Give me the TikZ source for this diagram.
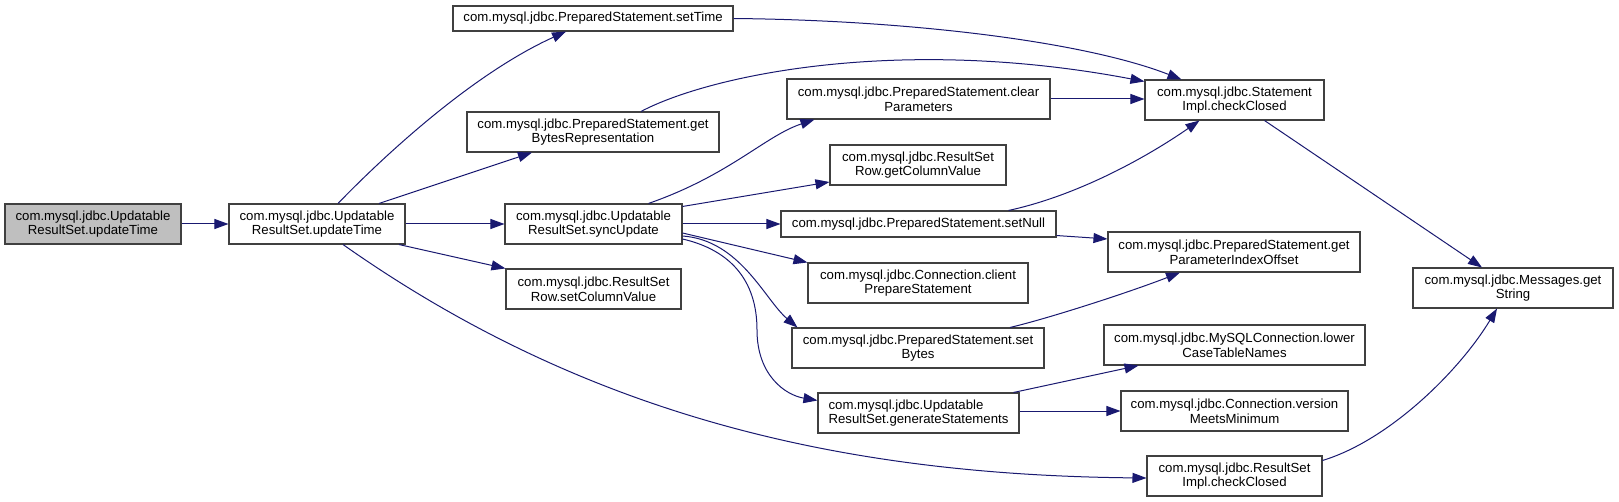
\documentclass[tikz,border=0pt]{standalone}
\usepackage{fontspec}
\setmainfont{Liberation Sans}
\usetikzlibrary{arrows.meta,calc}
\definecolor{edgec}{HTML}{191970}
\definecolor{boxc}{HTML}{404040}
\definecolor{rootc}{HTML}{BFBFBF}
\begin{document}
\begin{tikzpicture}[x=0.75pt,y=-0.75pt,
  box/.style={draw=boxc, line width=0.8pt, fill=white, inner sep=0pt, align=center,
              font=\fontsize{9.9}{11}\selectfont},
  sz/.style 2 args={minimum width=#1*0.75pt, minimum height=#2*0.75pt},
  edge/.style={draw=edgec, line width=0.75pt, -{Triangle[length=10.5pt,width=7.5pt]}}]
\useasboundingbox (0,0) rectangle (1619,502);

\node[box,sz={176}{40},fill=rootc] (A) at (93,224) {com.mysql.jdbc.Updatable\\ResultSet.updateTime};
\node[box,sz={176}{40}] (B) at (317,224) {com.mysql.jdbc.Updatable\\ResultSet.updateTime};
\node[box,sz={280}{25}] (C) at (593,18.5) {com.mysql.jdbc.PreparedStatement.setTime};
\node[box,sz={252}{40}] (D) at (593,132) {com.mysql.jdbc.PreparedStatement.get\\BytesRepresentation};
\node[box,sz={177}{40}] (E) at (593.5,224) {com.mysql.jdbc.Updatable\\ResultSet.syncUpdate};
\node[box,sz={175}{40}] (F) at (593.5,289) {com.mysql.jdbc.ResultSet\\Row.setColumnValue};
\node[box,sz={263}{40}] (G) at (918.5,99) {com.mysql.jdbc.PreparedStatement.clear\\Parameters};
\node[box,sz={176}{40}] (H) at (918,165) {com.mysql.jdbc.ResultSet\\Row.getColumnValue};
\node[box,sz={275}{26}] (I) at (918.5,224) {com.mysql.jdbc.PreparedStatement.setNull};
\node[box,sz={220}{40}] (J) at (918,283) {com.mysql.jdbc.Connection.client\\PrepareStatement};
\node[box,sz={252}{40}] (K) at (918,348) {com.mysql.jdbc.PreparedStatement.set\\Bytes};
\node[box,sz={201}{40},align=left] (L) at (918.5,413) {com.mysql.jdbc.Updatable\\ResultSet.generateStatements};
\node[box,sz={179}{40}] (M) at (1234.5,100) {com.mysql.jdbc.Statement\\Impl.checkClosed};
\node[box,sz={252}{40}] (N) at (1234,252) {com.mysql.jdbc.PreparedStatement.get\\ParameterIndexOffset};
\node[box,sz={261}{40}] (O) at (1234.5,345) {com.mysql.jdbc.MySQLConnection.lower\\CaseTableNames};
\node[box,sz={227}{40}] (P) at (1234.5,411) {com.mysql.jdbc.Connection.version\\MeetsMinimum};
\node[box,sz={175}{40}] (Q) at (1234.5,476) {com.mysql.jdbc.ResultSet\\Impl.checkClosed};
\node[box,sz={200}{40}] (R) at (1513,288) {com.mysql.jdbc.Messages.get\\String};

\coordinate (bend) at (757,330);

\draw[edge] (A.east) -- (B.west);
\draw[edge] ($(B.north)+(21,0)$) .. controls (380,160) and (470,75) .. ($(C.south)+(-27,0)$);
\draw[edge] ($(B.north)+(62,0)$) -- ($(D.south)+(-61,0)$);
\draw[edge] (B.east) -- (E.west);
\draw[edge] ($(B.south)+(82,0)$) -- (F.north west);
\draw[edge] ($(B.south)+(26,0)$) .. controls (585,415) and (840,475) .. ($(Q.west)+(0,2)$);
\draw[edge] (C.east) .. controls (900,20) and (1080,40) .. ($(M.north)+(-53,0)$);
\draw[edge] ($(D.north)+(48,0)$) .. controls (710,75) and (900,35) .. ($(M.north west)+(0,2)$);
\draw[edge] ($(E.north)+(55,0)$) .. controls (730,175) and (765,136) .. ($(G.south west)+(28,0)$);
\draw[edge] ($(E.north east)+(0,3)$) -- ($(H.west)+(0,17)$);
\draw[edge] (E.east) -- (I.west);
\draw[edge] ($(E.east)+(0,9)$) -- (J.north west);
\draw[edge] ($(E.east)+(0,12)$) .. controls (740,240) and (765,300) .. ($(K.north west)+(6,0)$);
\draw[edge] ($(E.east)+(0,15)$) .. controls (730,250) and (757,280) .. (bend)
            .. controls (757,375) and (785,395) .. ($(L.north west)+(0,8)$);
\draw[edge] (G.east) -- (G.east -| M.west);
\draw[edge] ($(I.north)+(90,0)$) .. controls (1080,195) and (1150,155) .. ($(M.south)+(-35,0)$);
\draw[edge] ($(I.south east)+(0,-2)$) -- ($(N.north west)+(0,7.5)$);
\draw[edge] ($(K.north)+(92,0)$) .. controls (1050,318) and (1130,292) .. ($(N.south)+(-54,0)$);
\draw[edge] ($(L.north)+(95,0)$) -- ($(O.south)+(-96,0)$);
\draw[edge] (L.east |- P.west) -- (P.west);
\draw[edge] ($(M.south)+(30,0)$) -- ($(R.north)+(-31,0)$);
\draw[edge] ($(Q.north east)+(0,5)$) .. controls (1390,440) and (1460,370) .. ($(R.south)+(-16,0)$);
\end{tikzpicture}
\end{document}
